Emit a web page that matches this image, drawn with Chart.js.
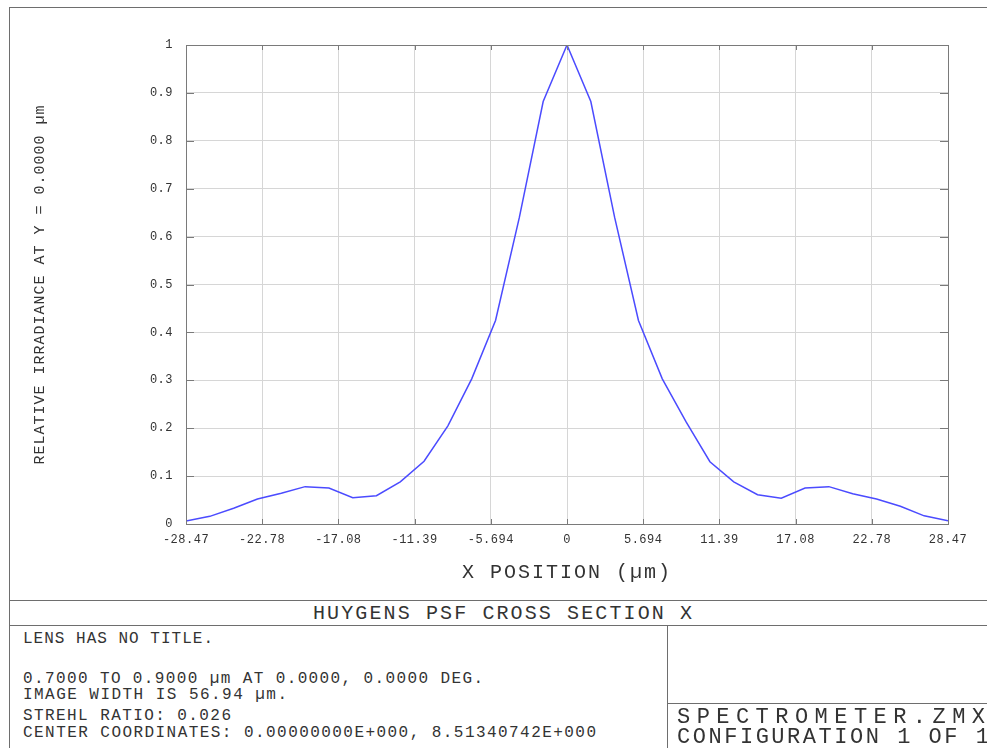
<!DOCTYPE html>
<html>
<head>
<meta charset="utf-8">
<title>Huygens PSF Cross Section X</title>
<script src="https://cdn.jsdelivr.net/npm/chart.js@4.4.0/dist/chart.umd.min.js"></script>
<style>
    html, body { margin: 0; padding: 0; background: #fff; }
    body { width: 987px; height: 748px; position: relative; overflow: hidden;
           font-family: "Liberation Mono", "DejaVu Sans Mono", monospace; color: #333; }
    #psfChart { position: absolute; left: 0; top: 0; }
    .rule { position: absolute; background: #6e6e6e; }
    .txt { position: absolute; white-space: pre; line-height: 1; }
</style>
</head>
<body>
<canvas id="psfChart" width="987" height="600"></canvas>

<!-- frame -->
<div class="rule" style="left:9px;top:7px;width:978px;height:1px"></div>
<div class="rule" style="left:9px;top:7px;width:1px;height:741px"></div>
<div class="rule" style="left:9px;top:600px;width:978px;height:1px"></div>
<div class="rule" style="left:9px;top:625px;width:978px;height:1px"></div>
<div class="rule" style="left:667px;top:625px;width:1px;height:123px"></div>
<div class="rule" style="left:667px;top:703px;width:320px;height:1px"></div>

<!-- footer text -->
<div class="txt fit" data-x="313" data-w="379" data-cy="613" data-fs="20">HUYGENS PSF CROSS SECTION X</div>
<div class="txt fit" data-x="23" data-w="190" data-cy="638" data-fs="16">LENS HAS NO TITLE.</div>
<div class="txt fit" data-x="23" data-w="460" data-cy="678" data-fs="16">0.7000 TO 0.9000 µm AT 0.0000, 0.0000 DEG.</div>
<div class="txt fit" data-x="23" data-w="264" data-cy="694" data-fs="16">IMAGE WIDTH IS 56.94 µm.</div>
<div class="txt fit" data-x="23" data-w="208" data-cy="715" data-fs="16">STREHL RATIO: 0.026</div>
<div class="txt fit" data-x="23" data-w="573" data-cy="732" data-fs="16">CENTER COORDINATES: 0.00000000E+000, 8.51340742E+000</div>
<div class="txt fit" data-x="677" data-w="308" data-cy="717" data-fs="22">SPECTROMETER.ZMX</div>
<div class="txt fit" data-x="677" data-w="312" data-cy="737" data-fs="22">CONFIGURATION 1 OF 1</div>

<script>
// sample positions across the image width (µm)
const xPositions = [
    -28.47, -26.69, -24.91, -23.13, -21.35, -19.57, -17.79, -16.01,
    -14.24, -12.46, -10.68, -8.90, -7.12, -5.34, -3.56, -1.78,
    0,
    1.78, 3.56, 5.34, 7.12, 8.90, 10.68, 12.46,
    14.24, 16.01, 17.79, 19.57, 21.35, 23.13, 24.91, 26.69, 28.47
];
// relative irradiance
const irradiance = [
    0.006, 0.016, 0.033, 0.052, 0.064, 0.078, 0.075, 0.055,
    0.059, 0.088, 0.131, 0.205, 0.303, 0.425, 0.640, 0.882,
    1.000,
    0.882, 0.640, 0.425, 0.303, 0.213, 0.130, 0.088, 0.061,
    0.054, 0.075, 0.078, 0.063, 0.052, 0.037, 0.017, 0.007
];
const xTickValues = [-28.47, -22.78, -17.08, -11.39, -5.694, 0, 5.694, 11.39, 17.08, 22.78, 28.47];
const xTickLabels = ["-28.47", "-22.78", "-17.08", "-11.39", "-5.694", "0", "5.694", "11.39", "17.08", "22.78", "28.47"];
const xTitle = "X POSITION (µm)";
const yTitle = "RELATIVE IRRADIANCE AT Y = 0.0000 µm";

const FONT = "'Liberation Mono', 'DejaVu Sans Mono', monospace";
const titleSpacing = { x: "2px", y: "1px" };

// stretch footer text to the widths seen in the reference
document.querySelectorAll(".fit").forEach(el => {
    const fs = +el.dataset.fs;
    el.style.fontSize = fs + "px";
    el.style.left = el.dataset.x + "px";
    el.style.top = (+el.dataset.cy - fs * 0.437) + "px";
    const n = el.textContent.length;
    const natural = el.getBoundingClientRect().width;
    el.style.letterSpacing = ((+el.dataset.w - natural) / (n - 1)) + "px";
});

// letter spacing for canvas text, per-axis for titles
const spacedText = {
    id: "spacedText",
    beforeDraw(chart) {
        chart.ctx.letterSpacing = "0.5px";
        Object.entries(chart.scales).forEach(([id, s]) => {
            if (s._spaced) return;
            const orig = s.drawTitle;
            s.drawTitle = function () {
                this.ctx.save();
                this.ctx.letterSpacing = titleSpacing[id] || "0px";
                orig.call(this);
                this.ctx.restore();
            };
            s._spaced = true;
        });
    }
};

// plot frame + inward tick marks like the original
const frameTicks = {
    id: "frameTicks",
    afterDatasetsDraw(chart) {
        const { ctx, chartArea: a, scales: { x, y } } = chart;
        ctx.save();
        ctx.strokeStyle = "#7a7a7a";
        ctx.lineWidth = 1;
        ctx.strokeRect(a.left + 0.5, a.top + 0.5, a.right - a.left, a.bottom - a.top);
        ctx.beginPath();
        x.ticks.forEach(t => {
            const px = Math.round(x.getPixelForValue(t.value)) + 0.5;
            ctx.moveTo(px, a.bottom); ctx.lineTo(px, a.bottom - 5);
            ctx.moveTo(px, a.top); ctx.lineTo(px, a.top + 5);
        });
        y.ticks.forEach(t => {
            const py = Math.round(y.getPixelForValue(t.value)) + 0.5;
            ctx.moveTo(a.left, py); ctx.lineTo(a.left + 8, py);
            ctx.moveTo(a.right, py); ctx.lineTo(a.right - 8, py);
        });
        ctx.stroke();
        ctx.restore();
    }
};

new Chart(document.getElementById("psfChart").getContext("2d"), {
    type: "line",
    data: {
        datasets: [{
            data: xPositions.map((v, i) => ({ x: v, y: irradiance[i] })),
            borderColor: "#4b4bff",
            borderWidth: 1.5,
            pointRadius: 0,
            tension: 0,
            fill: false
        }]
    },
    options: {
        responsive: false,
        animation: false,
        layout: { padding: { top: 45, right: 39, left: 0, bottom: 0 } },
        plugins: { legend: { display: false }, tooltip: { enabled: false } },
        scales: {
            x: {
                type: "linear",
                min: -28.47,
                max: 28.47,
                afterBuildTicks: s => { s.ticks = xTickValues.map(v => ({ value: v })); },
                afterFit: s => { s.height = 76; },
                ticks: {
                    autoSkip: false,
                    maxRotation: 0,
                    padding: 9,
                    color: "#333",
                    font: { family: FONT, size: 12 },
                    callback: (v, i) => xTickLabels[i]
                },
                grid: { color: "#d6d6d6", drawTicks: false },
                border: { display: false },
                title: {
                    display: true,
                    text: xTitle,
                    color: "#333",
                    font: { family: FONT, size: 20 },
                    padding: { top: 0, bottom: 15 }
                }
            },
            y: {
                min: 0,
                max: 1,
                afterFit: s => { s.width = 186; },
                ticks: {
                    stepSize: 0.1,
                    padding: 13,
                    color: "#333",
                    font: { family: FONT, size: 12 },
                    callback: v => String(+v.toFixed(1))
                },
                grid: { color: "#d6d6d6", drawTicks: false },
                border: { display: false },
                title: {
                    display: true,
                    text: yTitle,
                    color: "#333",
                    font: { family: FONT, size: 15 },
                    padding: { top: 31, bottom: 0 }
                }
            }
        }
    },
    plugins: [spacedText, frameTicks]
});
</script>
</body>
</html>
